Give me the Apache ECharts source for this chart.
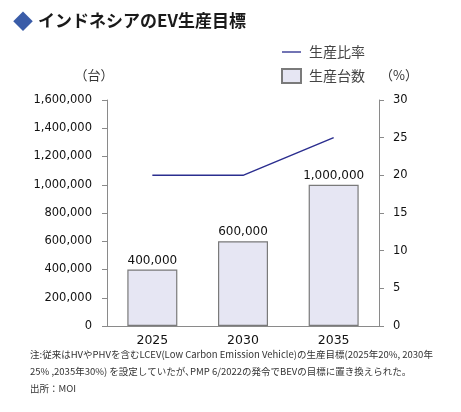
<!DOCTYPE html>
<html lang="ja">
<head>
<meta charset="utf-8">
<script src="https://cdn.jsdelivr.net/npm/echarts@6/dist/echarts.min.js"></script>
<style>
  html, body { margin: 0; padding: 0; background: #fff; }
  #main { width: 461px; height: 412px; }
</style>
</head>
<body>
<div id="main"></div>
<script>
// データ
var years = ['2025', '2030', '2035'];
var units = [400000, 600000, 1000000];   // 生産台数
var ratio = [20, 20, 25];                // 生産比率 (%)

var notes = [
    '注:従来はHVやPHVを含むLCEV(Low Carbon Emission Vehicle)の生産目標(2025年20%, 2030年',
    '25% ,2035年30%) を設定していたが､PMP 6/2022の発令でBEVの目標に置き換えられた。',
    '出所：MOI'
];

var axisColor = '#8a8a8a';
var numFont = 'DejaVu Sans';
var jpFont = '"Noto Sans CJK JP", sans-serif';

var myChart = echarts.init(document.getElementById('main'));

myChart.setOption({
    animation: false,
    title: [{
        left: 8,
        top: 6,
        text: '{d|◆} {t|インドネシアのEV生産目標}',
        textStyle: {
            rich: {
                d: { color: '#3a5ca8', fontSize: 20, fontFamily: jpFont },
                t: { color: '#1a1a1a', fontSize: 17, fontWeight: 'bold', fontFamily: jpFont }
            }
        }
    }, {
        left: 25,
        top: 341,
        text: notes.join('\n'),
        textStyle: {
            color: '#333',
            fontSize: 9.5,
            fontWeight: 'normal',
            lineHeight: 17,
            fontFamily: jpFont
        }
    }],
    legend: {
        orient: 'vertical',
        left: 276,
        top: 40,
        itemWidth: 19,
        itemHeight: 14,
        itemGap: 9,
        textStyle: { color: '#444', fontSize: 14, fontFamily: jpFont, padding: [0, 0, 0, 3] },
        data: [
            { name: '生産比率', icon: 'path://M0,0L20,0L20,1.4L0,1.4Z' },
            { name: '生産台数', icon: 'rect' }
        ]
    },
    grid: { left: 107, right: 82, top: 100, bottom: 86 },
    xAxis: {
        type: 'category',
        data: years,
        axisLine: { lineStyle: { color: axisColor } },
        axisTick: { show: false },
        axisLabel: { color: '#111', fontSize: 12.5, fontFamily: numFont, margin: 8 }
    },
    yAxis: [{
        type: 'value',
        min: 0,
        max: 1600000,
        interval: 200000,
        name: '（台）',
        nameGap: 18,
        nameTextStyle: { color: '#333', fontSize: 13, fontFamily: jpFont, padding: [0, 26, 0, 0] },
        splitLine: { show: false },
        axisLine: { show: true, lineStyle: { color: axisColor } },
        axisTick: { show: true, length: 5, lineStyle: { color: axisColor } },
        axisLabel: {
            color: '#111', fontSize: 11.5, fontFamily: numFont, margin: 15,
            formatter: function (v) { return v.toLocaleString('en-US'); }
        }
    }, {
        type: 'value',
        min: 0,
        max: 30,
        interval: 5,
        name: '（%）',
        nameGap: 18,
        nameTextStyle: { color: '#333', fontSize: 13, fontFamily: jpFont, padding: [0, 0, 0, 40] },
        splitLine: { show: false },
        axisLine: { show: true, lineStyle: { color: axisColor } },
        axisTick: { show: true, length: 5, lineStyle: { color: axisColor } },
        axisLabel: { color: '#111', fontSize: 11.5, fontFamily: numFont, margin: 14 }
    }],
    series: [{
        name: '生産台数',
        type: 'bar',
        data: units,
        barWidth: 50,
        itemStyle: { color: '#e6e6f3', borderColor: '#7a7a7a', borderWidth: 1.2 },
        label: {
            show: true,
            position: 'top',
            distance: 3,
            color: '#111',
            fontSize: 12,
            fontFamily: numFont,
            formatter: function (p) { return p.value.toLocaleString('en-US'); }
        }
    }, {
        name: '生産比率',
        type: 'line',
        yAxisIndex: 1,
        data: ratio,
        symbol: 'none',
        lineStyle: { color: '#2b2e8f', width: 1.5 },
        itemStyle: { color: '#2b2e8f' }
    }]
});
</script>
</body>
</html>
